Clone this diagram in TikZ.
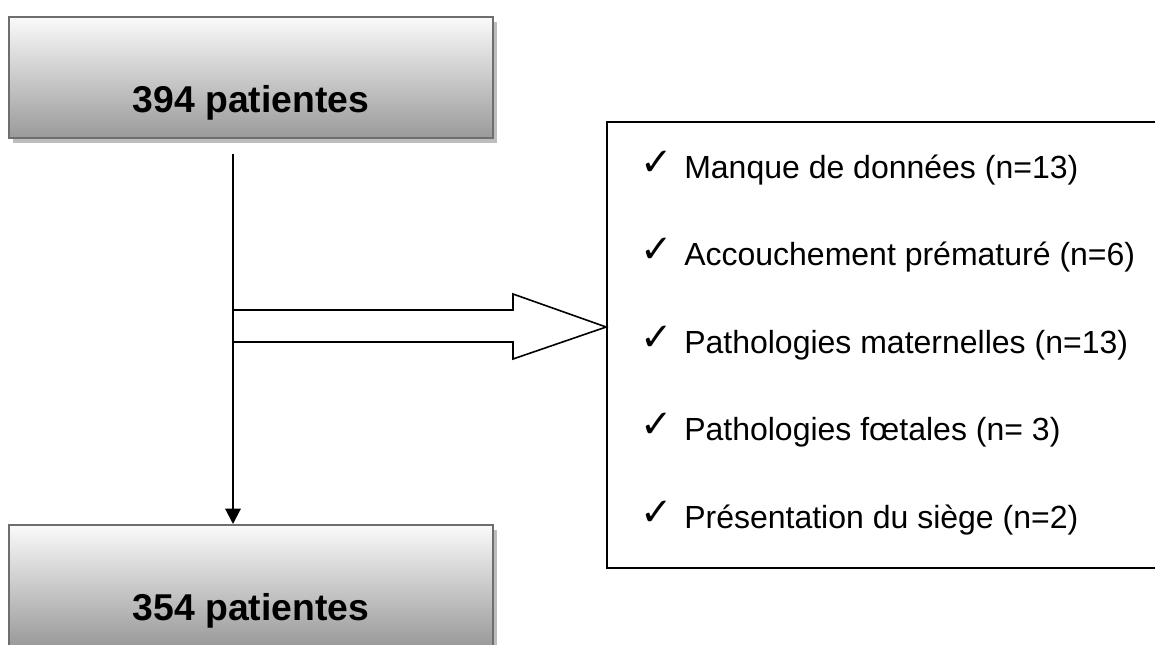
\documentclass[tikz,border=0pt]{standalone}
\usepackage{fontspec}
\setmainfont{Liberation Sans}
\newfontfamily\symfont{DejaVu Sans}
\usetikzlibrary{shadows,arrows.meta}
\definecolor{boxtop}{HTML}{FAFAFA}
\definecolor{boxmid}{HTML}{DCDCDC}
\definecolor{boxbottom}{HTML}{9A9A9A}
\definecolor{boxborder}{HTML}{6E6E6E}
\definecolor{shadowgray}{HTML}{BDBDBD}
\begin{document}
\begin{tikzpicture}[x=0.75pt,y=-0.75pt,
  graybox/.style={draw=boxborder, line width=1.5pt, top color=boxtop, middle color=boxmid, bottom color=boxbottom,
    minimum width=363pt, minimum height=90.75pt, inner sep=0pt,
    drop shadow={shadow xshift=3pt, shadow yshift=-3.5pt, fill=shadowgray, opacity=1}},
  bigtext/.style={font=\fontsize{28}{32}\selectfont\bfseries, inner sep=0pt, anchor=base},
  itemtext/.style={font=\fontsize{24}{28}\selectfont, anchor=base west, inner sep=0pt},
  tick/.style={font=\symfont\fontsize{29}{32}\selectfont, inner sep=0pt},
  listbox/.style={draw=black, line width=1.3pt, minimum width=418.5pt, minimum height=334.5pt, inner sep=0pt},
  conn/.style={line width=1.5pt, -{Triangle[width=11.5pt,length=11.5pt]}},
  blockarrow/.style={draw=black, line width=1.2pt, line join=miter}
  ]
\clip (0,0) rectangle (1155,644);
\useasboundingbox (0,0) rectangle (1155,644);

% boxes
\node[graybox] (b1) at (251,77.5) {};
\node[bigtext] (t1) at (251,112) {394 patientes};
\node[graybox] (b2) at (251,585.5) {};
\node[bigtext] (t2) at (251,620) {354 patientes};

\node[listbox] (r) at (886,345) {};

% vertical connector
\coordinate (s) at (233,154);
\draw[conn] (s) -- (s |- b2.north);

% block arrow
\draw[blockarrow] (233,310) -- (513,310) -- (513,294) -- (r.west |- 0,327) -- (513,359) -- (513,342) -- (233,342);

% list
\node[tick] (c1) at (657,163) {✓};
\node[itemtext] (l1) at (684,178) {Manque de données (n=13)};
\node[tick] (c2) at (657,250.5) {✓};
\node[itemtext] (l2) at (684,265.5) {Accouchement prématuré (n=6)};
\node[tick] (c3) at (657,338) {✓};
\node[itemtext] (l3) at (684,353) {Pathologies maternelles (n=13)};
\node[tick] (c4) at (657,425.5) {✓};
\node[itemtext] (l4) at (684,440.5) {Pathologies fœtales (n= 3)};
\node[tick] (c5) at (657,513) {✓};
\node[itemtext] (l5) at (684,528) {Présentation du siège (n=2)};
\end{tikzpicture}
\end{document}
